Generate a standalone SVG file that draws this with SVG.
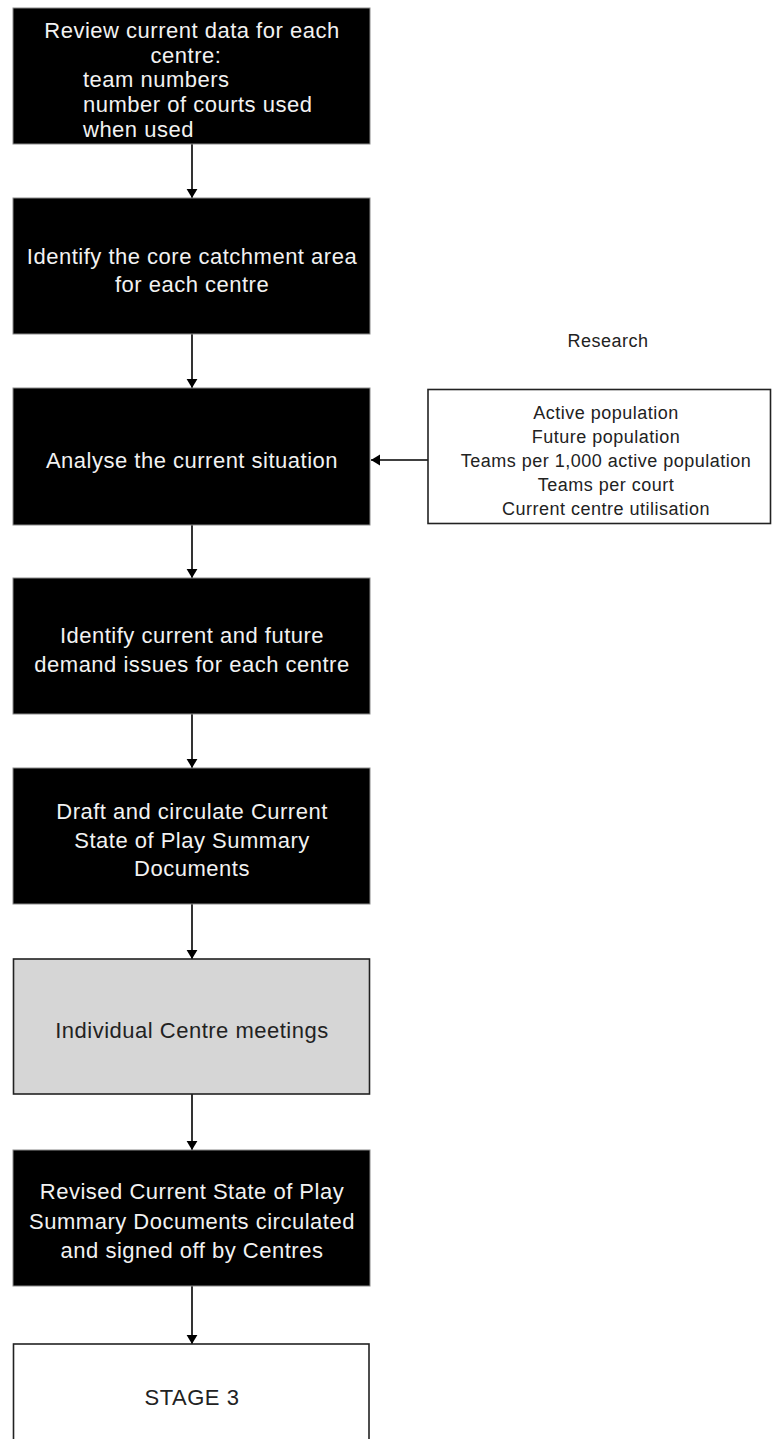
<svg xmlns="http://www.w3.org/2000/svg" width="772" height="1439" viewBox="0 0 772 1439">
<style>
.dark{fill:#000;stroke:#8a8a8a;stroke-width:1}
.grey{fill:#d6d6d6;stroke:#222;stroke-width:1.6}
.white{fill:#fff;stroke:#222;stroke-width:1.6}
text{font-family:"Liberation Sans",Arial,sans-serif;}
.t{font-size:22px;letter-spacing:0.5px;fill:#f2f2f2;text-anchor:middle}
.tl{font-size:22px;letter-spacing:0.5px;fill:#f2f2f2}
.td{font-size:22px;letter-spacing:0.5px;fill:#222;text-anchor:middle}
.ts{font-size:18px;letter-spacing:0.5px;fill:#222;text-anchor:middle}
.c{stroke:#000;stroke-width:1.6;fill:none;marker-end:url(#ah)}
</style>
<defs>
<marker id="ah" viewBox="0 0 10 12" markerWidth="9" markerHeight="12" refX="10" refY="6" orient="auto" markerUnits="userSpaceOnUse">
<path d="M0,0 L10,6 L0,12 z" fill="#000"/>
</marker>
</defs>
<g id="connectors">
<line class="c" x1="192" y1="144" x2="192" y2="198"/>
<line class="c" x1="192" y1="334" x2="192" y2="388"/>
<line class="c" x1="192" y1="525" x2="192" y2="578"/>
<line class="c" x1="192" y1="714" x2="192" y2="768"/>
<line class="c" x1="192" y1="904" x2="192" y2="959"/>
<line class="c" x1="192" y1="1094" x2="192" y2="1150"/>
<line class="c" x1="192" y1="1286" x2="192" y2="1344"/>
<line class="c" x1="428" y1="460" x2="371" y2="460"/>
</g>
<g id="n1">
<rect class="dark" x="13" y="8" width="357" height="136"/>
<text class="t" x="192" y="38">Review current data for each</text>
<text class="t" x="186" y="62.5">centre:</text>
<text class="tl" x="83" y="87">team numbers</text>
<text class="tl" x="83" y="112">number of courts used</text>
<text class="tl" x="83" y="137">when used</text>
</g>
<g id="n2">
<rect class="dark" x="13" y="198" width="357" height="136"/>
<text class="t" x="192" y="264">Identify the core catchment area</text>
<text class="t" x="192" y="291.5">for each centre</text>
</g>
<g id="n3">
<rect class="dark" x="13" y="388" width="357" height="137"/>
<text class="t" x="192" y="468">Analyse the current situation</text>
</g>
<g id="research">
<text class="ts" x="608" y="347">Research</text>
<rect class="white" x="428" y="389.5" width="342.5" height="134"/>
<text class="ts" x="606" y="419">Active population</text>
<text class="ts" x="606" y="443">Future population</text>
<text class="ts" x="606" y="467">Teams per 1,000 active population</text>
<text class="ts" x="606" y="491">Teams per court</text>
<text class="ts" x="606" y="514.5">Current centre utilisation</text>
</g>
<g id="n4">
<rect class="dark" x="13" y="578" width="357" height="136"/>
<text class="t" x="192" y="643">Identify current and future</text>
<text class="t" x="192" y="672">demand issues for each centre</text>
</g>
<g id="n5">
<rect class="dark" x="13" y="768" width="357" height="136"/>
<text class="t" x="192" y="819">Draft and circulate Current</text>
<text class="t" x="192" y="847.5">State of Play Summary</text>
<text class="t" x="192" y="876">Documents</text>
</g>
<g id="n6">
<rect class="grey" x="13.5" y="959" width="356" height="135"/>
<text class="td" x="192" y="1037.5">Individual Centre meetings</text>
</g>
<g id="n7">
<rect class="dark" x="13" y="1150" width="357" height="136"/>
<text class="t" x="192" y="1199">Revised Current State of Play</text>
<text class="t" x="192" y="1228.5">Summary Documents circulated</text>
<text class="t" x="192" y="1258">and signed off by Centres</text>
</g>
<g id="n8">
<rect class="white" x="13.5" y="1344" width="355.5" height="110"/>
<text class="td" x="192" y="1405">STAGE 3</text>
</g>
</svg>
